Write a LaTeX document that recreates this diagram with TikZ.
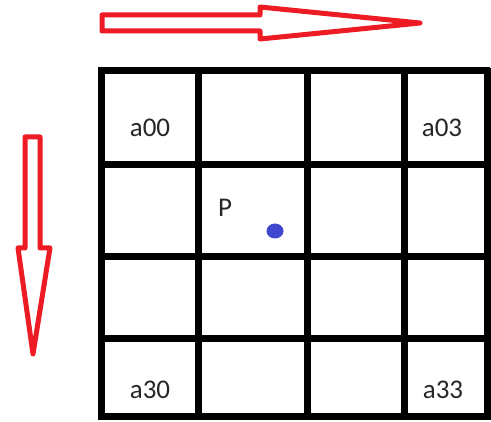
\documentclass[tikz,border=0pt]{standalone}
\usepackage{fontspec}
\setmainfont{Carlito}
\definecolor{arrred}{HTML}{ED1C24}
\definecolor{dotblue}{HTML}{3F48CC}
\begin{document}
\begin{tikzpicture}[x=1pt,y=-1pt,
  gridline/.style={line width=7pt,black},
  bigarrow/.style={draw=arrred,line width=5pt,line join=round,fill=white},
  lbl/.style={font=\fontsize{27}{30}\selectfont,text=black!85,inner sep=0pt}]
\useasboundingbox (0,0) rectangle (491,422);
% grid
\foreach \x in {101,198,307,404,487} \draw[gridline] (\x,68) -- (\x,420);
\foreach \y in {71,165,257,339,417} \draw[gridline] (98,\y) -- (490,\y);
% arrows
\draw[bigarrow] (102,15) -- (260,15) -- (260,7) -- (420,23) -- (260,39) -- (260,31) -- (102,31) -- cycle;
\draw[bigarrow] (25,137) -- (40,137) -- (40,248) -- (50,248) -- (33,354) -- (18,248) -- (25,248) -- cycle;
% labels
\node[lbl] (a00) at (150,128) {a00};
\node[lbl] (a03) at (442,128) {a03};
\node[lbl] (a30) at (150,390) {a30};
\node[lbl] (a33) at (443,390) {a33};
\node[lbl] (p) at (225,208) {P};
\fill[dotblue] (275,231) ellipse (8.5 and 7.5);
\end{tikzpicture}
\end{document}
